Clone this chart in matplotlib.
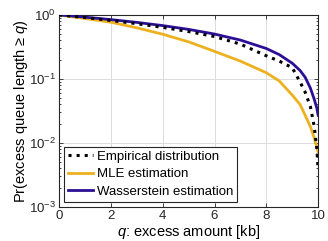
import numpy as np
import matplotlib
matplotlib.use("Agg")
import matplotlib.pyplot as plt

plt.rcParams['font.family'] = ['Liberation Sans', 'DejaVu Sans']
plt.rcParams['mathtext.fontset'] = 'custom'
plt.rcParams['mathtext.rm'] = 'Liberation Sans'
plt.rcParams['mathtext.it'] = 'Liberation Sans:italic'

# values (q in kb, probability of exceeding)
q_emp = [0, 1, 2, 3, 4, 5, 6, 7, 8, 8.5, 9, 9.3, 9.5, 9.7, 9.85, 9.95, 10]
p_emp = [1.0, 0.91, 0.82, 0.73, 0.64, 0.55, 0.46, 0.35, 0.23, 0.19, 0.15,
         0.09, 0.062, 0.037, 0.018, 0.008, 0.0038]

q_mle = [0, 1, 2, 3, 4, 5, 6, 7, 8, 8.5, 9, 9.3, 9.5, 9.7, 9.85, 10]
p_mle = [1.0, 0.88, 0.77, 0.63, 0.50, 0.38, 0.27, 0.19, 0.125, 0.093, 0.056,
         0.040, 0.027, 0.018, 0.012, 0.0072]

q_was = [0, 1, 2, 3, 4, 5, 6, 7, 8, 8.5, 9, 9.3, 9.5, 9.7, 9.85, 9.95, 10]
p_was = [1.0, 0.924, 0.846, 0.765, 0.682, 0.595, 0.503, 0.405, 0.299, 0.24,
         0.176, 0.136, 0.106, 0.072, 0.048, 0.035, 0.027]

fs = 9.5
fs_lab = 10.5

fig = plt.figure(figsize=(3.28, 2.41), dpi=100)
ax = fig.add_axes([0.180, 0.141, 0.790, 0.797])

ax.plot(q_emp, p_emp, color='black', linestyle=':', linewidth=2.2,
        label='Empirical distribution', zorder=4)
ax.plot(q_mle, p_mle, color='#EDB120', linewidth=2.0,
        label='MLE estimation', zorder=3)
ax.plot(q_was, p_was, color='#2d0f96', linewidth=2.0,
        label='Wasserstein estimation', zorder=3)

ax.set_yscale('log')
ax.set_xlim(0, 10)
ax.set_ylim(1e-3, 1)
ax.set_xticks([0, 2, 4, 6, 8, 10])
ax.set_yticks([1e-3, 1e-2, 1e-1, 1])
ax.grid(True, which='major', color='#dcdcdc', linewidth=0.7)
ax.set_axisbelow(True)
ax.tick_params(which='both', direction='in', top=True, right=True,
               labelsize=fs, colors='#262626', width=0.6)
ax.tick_params(which='major', length=3, pad=2.5)
ax.tick_params(which='minor', length=1.6)
ax.tick_params(axis='x', which='minor', top=False, bottom=False)
for s in ax.spines.values():
    s.set_color('#262626')
    s.set_linewidth(0.8)

ax.set_xlabel('$q$: excess amount [kb]', fontsize=fs_lab, labelpad=0.5)
ax.set_ylabel('Pr(excess queue length ≥ $q$)', fontsize=fs_lab, labelpad=-1)

leg = ax.legend(loc='lower left', fontsize=fs, frameon=True, fancybox=False,
                borderpad=0.3, labelspacing=0.4, handlelength=1.9,
                handletextpad=0.25, borderaxespad=0.4)
leg.get_frame().set_edgecolor('#262626')
leg.get_frame().set_linewidth(0.8)
leg.get_frame().set_alpha(1)

fig.savefig('out.png', dpi=100)
